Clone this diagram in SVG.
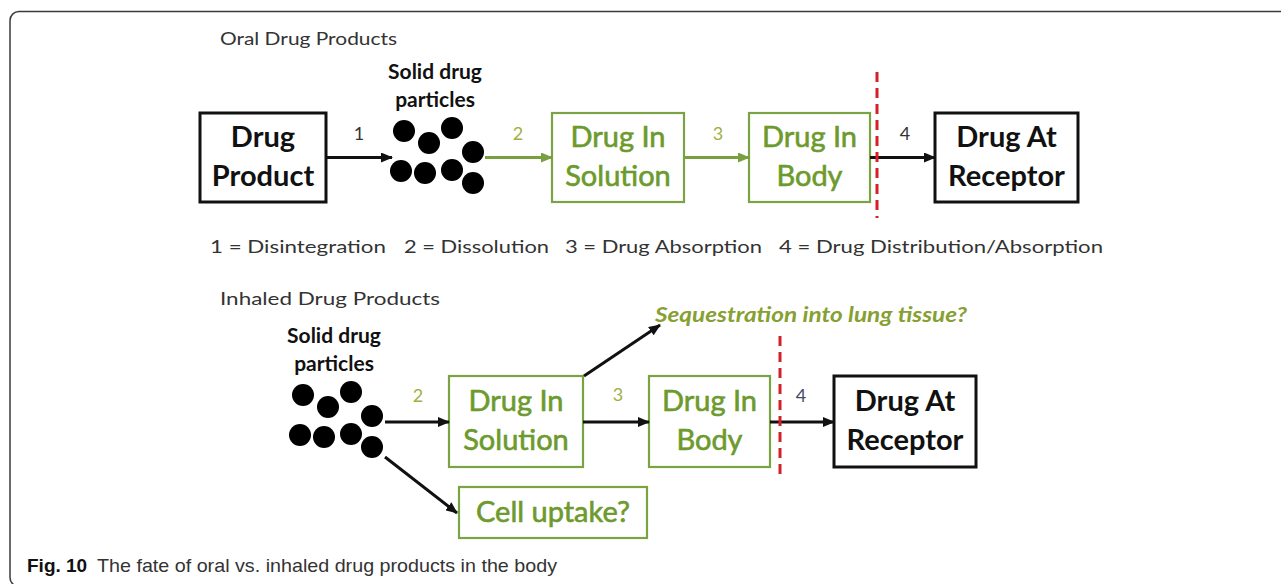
<svg xmlns="http://www.w3.org/2000/svg" width="1281" height="584" viewBox="0 0 1281 584">
  <style>
    .frame { fill: none; stroke: #3a3a3a; stroke-width: 1.5; }
    .head { font-family: Lato, "Liberation Sans", sans-serif; font-size: 18px; fill: #333; }
    .solid { font-family: Lato, "Liberation Sans", sans-serif; font-size: 21px; font-weight: bold; fill: #111; text-anchor: middle; }
    .box-k { fill: #fff; stroke: #111; stroke-width: 3; }
    .box-g { fill: #fff; stroke: #7aa344; stroke-width: 2.2; }
    .lbl-k { font-family: Lato, "Liberation Sans", sans-serif; font-size: 29px; font-weight: bold; fill: #111; text-anchor: middle; }
    .lbl-g { font-family: Lato, "Liberation Sans", sans-serif; font-size: 29px; fill: #6d9a2c; stroke: #6d9a2c; stroke-width: 0.6; text-anchor: middle; }
    .num { font-family: Lato, "Liberation Sans", sans-serif; font-size: 18px; text-anchor: middle; }
    .n-k { fill: #333; }
    .n-g { fill: #a0b040; }
    .n-b { fill: #454a66; }
    .legend { font-family: Lato, "Liberation Sans", sans-serif; font-size: 18px; fill: #333; }
    .seq { font-family: Lato, "Liberation Sans", sans-serif; font-size: 20px; font-weight: bold; font-style: italic; fill: #86a032; }
    .arr-k { stroke: #111; stroke-width: 3; fill: none; marker-end: url(#head-k); }
    .arr-g { stroke: #78a040; stroke-width: 3; fill: none; marker-end: url(#head-g); }
    .barrier { stroke: #d42029; stroke-width: 3; stroke-dasharray: 10 6; fill: none; }
    .caption { font-family: "Liberation Sans", Arial, sans-serif; font-size: 19px; fill: #333; }
    .caption-b { font-weight: bold; fill: #111; }
  </style>
  <defs>
    <marker id="head-k" viewBox="0 0 12 10" refX="11" refY="5" markerWidth="12" markerHeight="10" markerUnits="userSpaceOnUse" orient="auto">
      <path d="M0,0 L12,5 L0,10 Z" fill="#111"/>
    </marker>
    <marker id="head-g" viewBox="0 0 12 10" refX="11" refY="5" markerWidth="12" markerHeight="10" markerUnits="userSpaceOnUse" orient="auto">
      <path d="M0,0 L12,5 L0,10 Z" fill="#78a040"/>
    </marker>
    <g id="particles">
      <circle cx="0" cy="0" r="11"/>
      <circle cx="25" cy="12" r="11"/>
      <circle cx="48" cy="-3" r="11"/>
      <circle cx="69" cy="21" r="11"/>
      <circle cx="-3" cy="40" r="11"/>
      <circle cx="21" cy="42" r="11"/>
      <circle cx="48" cy="39" r="11"/>
      <circle cx="69" cy="52" r="11"/>
    </g>
  </defs>

  <!-- panel frame -->
  <rect class="frame" x="10" y="11.5" width="1300" height="575" rx="9" ry="9"/>

  <!-- ===== oral route ===== -->
  <text class="head" x="220" y="45" textLength="177" lengthAdjust="spacingAndGlyphs">Oral Drug Products</text>

  <g id="oral-drug-product">
    <rect class="box-k" x="200" y="113" width="126" height="89"/>
    <text class="lbl-k" x="263" y="147">Drug</text>
    <text class="lbl-k" x="263" y="186">Product</text>
  </g>

  <g id="oral-particles">
    <text class="solid" x="435" y="79">Solid drug</text>
    <text class="solid" x="435" y="107">particles</text>
    <use href="#particles" x="404" y="131" fill="#000"/>
  </g>

  <g id="oral-solution">
    <rect class="box-g" x="552" y="113" width="132" height="89"/>
    <text class="lbl-g" x="618" y="147">Drug In</text>
    <text class="lbl-g" x="618" y="186">Solution</text>
  </g>

  <g id="oral-body">
    <rect class="box-g" x="749" y="113" width="121" height="89"/>
    <text class="lbl-g" x="809.5" y="147">Drug In</text>
    <text class="lbl-g" x="809.5" y="186">Body</text>
  </g>

  <g id="oral-receptor">
    <rect class="box-k" x="935" y="113" width="143" height="89"/>
    <text class="lbl-k" x="1006.5" y="147">Drug At</text>
    <text class="lbl-k" x="1006.5" y="186">Receptor</text>
  </g>

  <g id="oral-connectors">
    <line class="arr-k" x1="326" y1="157.5" x2="392" y2="157.5"/>
    <line class="arr-g" x1="485" y1="157.5" x2="552" y2="157.5"/>
    <line class="arr-g" x1="684" y1="157.5" x2="749" y2="157.5"/>
    <line class="arr-k" x1="870" y1="157.5" x2="935" y2="157.5"/>
    <line class="barrier" x1="877" y1="72" x2="877" y2="218"/>
    <text class="num n-k" x="359" y="140">1</text>
    <text class="num n-g" x="518" y="140">2</text>
    <text class="num n-g" x="718" y="140">3</text>
    <text class="num n-k" x="905" y="140">4</text>
  </g>

  <!-- step key -->
  <g id="legend" class="legend">
    <text x="210" y="253" textLength="176" lengthAdjust="spacingAndGlyphs">1 = Disintegration</text>
    <text x="404" y="253" textLength="145" lengthAdjust="spacingAndGlyphs">2 = Dissolution</text>
    <text x="565" y="253" textLength="197" lengthAdjust="spacingAndGlyphs">3 = Drug Absorption</text>
    <text x="779" y="253" textLength="324" lengthAdjust="spacingAndGlyphs">4 = Drug Distribution/Absorption</text>
  </g>

  <!-- ===== inhaled route ===== -->
  <text class="head" x="220" y="305" textLength="220" lengthAdjust="spacingAndGlyphs">Inhaled Drug Products</text>

  <g id="inhaled-particles">
    <text class="solid" x="334" y="343">Solid drug</text>
    <text class="solid" x="334" y="371">particles</text>
    <use href="#particles" x="303" y="395" fill="#000"/>
  </g>

  <g id="inhaled-solution">
    <rect class="box-g" x="449" y="376" width="134" height="91"/>
    <text class="lbl-g" x="516" y="411">Drug In</text>
    <text class="lbl-g" x="516" y="450">Solution</text>
  </g>

  <g id="inhaled-body">
    <rect class="box-g" x="649" y="376" width="121" height="91"/>
    <text class="lbl-g" x="709.5" y="411">Drug In</text>
    <text class="lbl-g" x="709.5" y="450">Body</text>
  </g>

  <g id="inhaled-receptor">
    <rect class="box-k" x="834" y="376" width="142" height="91"/>
    <text class="lbl-k" x="905" y="411">Drug At</text>
    <text class="lbl-k" x="905" y="450">Receptor</text>
  </g>

  <g id="inhaled-cell-uptake">
    <rect class="box-g" x="459" y="487" width="188" height="51"/>
    <text class="lbl-g" x="553" y="522">Cell uptake?</text>
  </g>

  <g id="inhaled-sequestration">
    <text class="seq" x="655" y="322" textLength="312" lengthAdjust="spacingAndGlyphs">Sequestration into lung tissue?</text>
  </g>

  <g id="inhaled-connectors">
    <line class="arr-k" x1="385" y1="422" x2="449" y2="422"/>
    <line class="arr-k" x1="583" y1="422" x2="649" y2="422"/>
    <line class="arr-k" x1="770" y1="422" x2="834" y2="422"/>
    <line class="arr-k" x1="584" y1="376" x2="660" y2="325"/>
    <line class="arr-k" x1="385" y1="457" x2="457" y2="513"/>
    <line class="barrier" x1="780" y1="336" x2="780" y2="480"/>
    <text class="num n-g" x="418" y="402">2</text>
    <text class="num n-g" x="618" y="401">3</text>
    <text class="num n-b" x="801" y="402">4</text>
  </g>

  <!-- figure caption -->
  <text class="caption" x="27" y="572"><tspan class="caption-b">Fig. 10</tspan><tspan x="97" textLength="460" lengthAdjust="spacingAndGlyphs">The fate of oral vs. inhaled drug products in the body</tspan></text>
</svg>
